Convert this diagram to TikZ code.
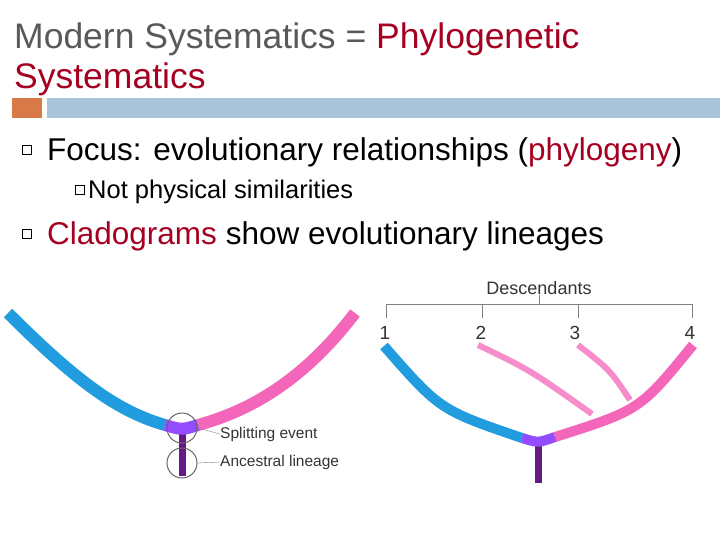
\documentclass[tikz,border=0pt]{standalone}
\usepackage{fontspec}
\setmainfont{Liberation Sans}
\begin{document}
\begin{tikzpicture}[x=1pt,y=-1pt,
  txt/.style={anchor=base west,inner sep=0},
  lbl/.style={anchor=west,inner sep=0,font=\fontsize{15.5}{17}\selectfont,text=black!80},
  blueb/.style={line width=12pt,color=cyan!80!blue!90!white},
  pinkb/.style={line width=12pt,color=magenta!60!white},
  pinkt/.style={line width=6pt,color=magenta!45!white},
  stem/.style={line width=7pt,color=blue!45!purple!80!black!90},
  hsq/.style={draw=black,line width=0.6pt,minimum size=9pt,inner sep=0}]
\useasboundingbox (0,0) rectangle (720,540);
\definecolor{tgray}{HTML}{595959}
\definecolor{dred}{HTML}{A50021}
\definecolor{orng}{HTML}{D77A48}
\definecolor{bbar}{HTML}{A9C4DA}
% title
\node[txt,font=\fontsize{35.5}{40}\selectfont,text=tgray] (t1) at (14,49) {Modern Systematics = \textcolor{dred}{Phylogenetic}};
\node[txt,font=\fontsize{35.5}{40}\selectfont,text=dred] (t2) at (14,89) {Systematics};
\fill[orng] (12,98) rectangle (42,118);
\fill[bbar] (47,98) rectangle (720,118);
% bullets
\node[hsq] (b1) at (27,150) {};
\node[txt,font=\fontsize{31.5}{36}\selectfont] (l1) at (47,161) {Focus: evolutionary relationships (\textcolor{dred}{phylogeny})};
\node[hsq,minimum size=9pt] (b2) at (80,190) {};
\node[txt,font=\fontsize{25.5}{30}\selectfont] (l2) at (88,199) {Not physical similarities};
\node[hsq] (b3) at (27,234) {};
\node[txt,font=\fontsize{31.5}{36}\selectfont] (l3) at (47,244) {\textcolor{dred}{Cladograms} show evolutionary lineages};
% left diagram
\coordinate (ls) at (182,428);
\coordinate (lb) at (182,476);
\draw[stem] (ls) -- (lb);
\draw[blueb] (8,313) .. controls (80,385) and (120,412) .. (165,425);
\draw[pinkb] (198,425) .. controls (245,412) and (300,385) .. (355,313);
\draw[line width=12pt,color=blue!60!magenta!70] (165,425) .. controls (182,430) .. (198,425);
\node[draw=black!60,circle,minimum size=30pt,inner sep=0,line width=1pt] (c1) at (182,428) {};
\node[draw=black!60,circle,minimum size=30pt,inner sep=0,line width=1pt] (c2) at (182,463) {};
\node[lbl] (se) at (220,434) {Splitting event};
\node[lbl] (al) at (220,462) {Ancestral lineage};
\draw[black!50] (c1.east) -- (se.west);
\draw[black!50] (c2.east) -- (al.west);
% right diagram
\node[lbl,anchor=center,font=\fontsize{18}{20}\selectfont] (de) at (539,288) {Descendants};
\draw[black!50,line width=1pt] (386,318) -- (386,304) -- (692,304) -- (692,318);
\draw[black!50,line width=1pt] (482,304) -- (482,318);
\draw[black!50,line width=1pt] (578,304) -- (578,318);
\draw[black!50,line width=1pt] (de.south) -- (539,304);
\foreach \n/\x in {1/385,2/481,3/575,4/690}
  \node[lbl,anchor=center,font=\fontsize{19}{21}\selectfont] (n\n) at (\x,333) {\n};
\coordinate (rs) at (538,440);
\draw[stem] (rs) -- (538,483);
\draw[pinkt] (478,345) .. controls (530,370) .. (592,414);
\draw[pinkt] (578,345) .. controls (610,370) .. (630,400);
\draw[blueb,line width=10pt] (384,346) .. controls (440,410) .. (522,438);
\draw[pinkb,line width=10pt] (555,437) .. controls (640,410) .. (693,345);
\draw[line width=10pt,color=blue!60!magenta!70] (522,438) .. controls (538,443) .. (555,437);
\end{tikzpicture}
\end{document}
